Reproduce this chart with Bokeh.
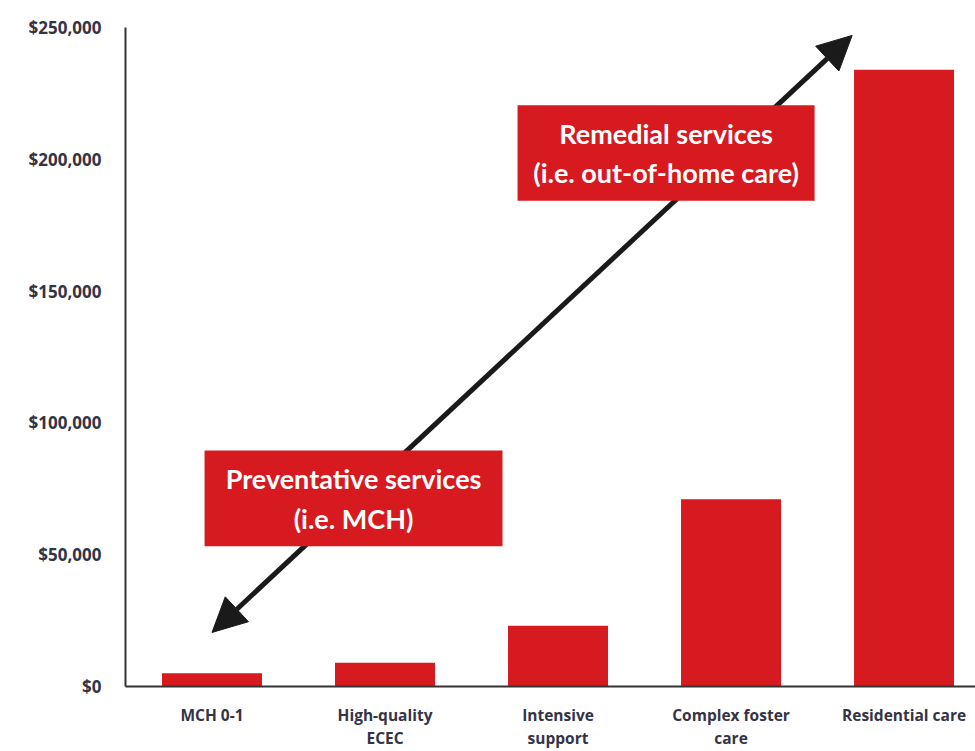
from bokeh.plotting import figure
from bokeh.models import (Range1d, FixedTicker, NumeralTickFormatter, Arrow, NormalHead,
                          ColumnDataSource)
from bokeh.core.properties import value
from bokeh.embed import file_html
from bokeh.resources import INLINE

# ---- data ----
categories = ["MCH 0-1", "High-quality\nECEC", "Intensive\nsupport",
              "Complex foster\ncare", "Residential care"]
costs = [5000, 9000, 23000, 71000, 234000]
y_ticks = [0, 50000, 100000, 150000, 200000, 250000]

box_labels = ["Preventative services\n(i.e. MCH)", "Remedial services\n(i.e. out-of-home care)"]

RED = "#D71920"
FONT = "Lato"
AXFONT = "Open Sans"
AXCOLOR = "#343446"

xs = list(range(len(categories)))

p = figure(width=975, height=751, output_backend="svg", toolbar_location=None,
           x_range=Range1d(-0.5, 4.413), y_range=Range1d(0, 250000),
           min_border_left=125, min_border_right=0, min_border_top=27, min_border_bottom=64)
p.outline_line_color = None
p.xgrid.grid_line_color = None
p.ygrid.grid_line_color = None

# bars
src = ColumnDataSource(dict(x=xs, top=costs))
p.vbar(x="x", top="top", width=0.578, bottom=0, source=src, fill_color=RED, line_color=None)

# double-headed arrow (behind boxes)
arrow = Arrow(x_start=0.0, y_start=20500, x_end=3.70, y_end=247000,
              line_width=5, line_color="#1a1a1a", level="underlay",
              start=NormalHead(size=34, fill_color="#1a1a1a", line_color="#1a1a1a"),
              end=NormalHead(size=34, fill_color="#1a1a1a", line_color="#1a1a1a"))
p.add_layout(arrow)

# annotation boxes
box_src = ColumnDataSource(dict(
    left=[-0.043, 1.766], right=[1.679, 3.483],
    bottom=[53200, 184300], top=[89500, 220500],
    cx=[(-0.043 + 1.679) / 2, (1.766 + 3.483) / 2],
    cy=[(53200 + 89500) / 2, (184300 + 220500) / 2],
    text=box_labels))
p.quad(left="left", right="right", bottom="bottom", top="top", source=box_src,
       fill_color=RED, line_color=None)
p.text(x="cx", y="cy", text="text", source=box_src, text_align="center",
       text_baseline="middle", text_color="white", text_font=value(FONT),
       text_font_size="27px", text_font_style="bold", text_line_height=1.2)

# axes
p.xaxis.ticker = FixedTicker(ticks=xs)
p.xaxis.major_label_overrides = {i: c for i, c in enumerate(categories)}
p.xaxis.major_tick_line_color = None
p.xaxis.minor_tick_line_color = None
p.xaxis.major_tick_out = 0
p.xaxis.axis_line_color = "#333333"
p.xaxis.axis_line_width = 2
p.xaxis.major_label_standoff = 17
p.xaxis.major_label_text_font = AXFONT
p.xaxis.major_label_text_font_size = "15.5px"
p.xaxis.major_label_text_font_style = "bold"
p.xaxis.major_label_text_color = AXCOLOR
p.xaxis.major_label_text_line_height = 1.05

p.yaxis.ticker = FixedTicker(ticks=y_ticks)
p.yaxis.formatter = NumeralTickFormatter(format="$0,0")
p.yaxis.major_tick_line_color = None
p.yaxis.minor_tick_line_color = None
p.yaxis.major_tick_out = 0
p.yaxis.axis_line_color = "#333333"
p.yaxis.axis_line_width = 2
p.yaxis.major_label_standoff = 24
p.yaxis.major_label_text_font = AXFONT
p.yaxis.major_label_text_font_size = "17px"
p.yaxis.major_label_text_font_style = "bold"
p.yaxis.major_label_text_color = AXCOLOR

open("out.html", "w").write(file_html(p, INLINE))
